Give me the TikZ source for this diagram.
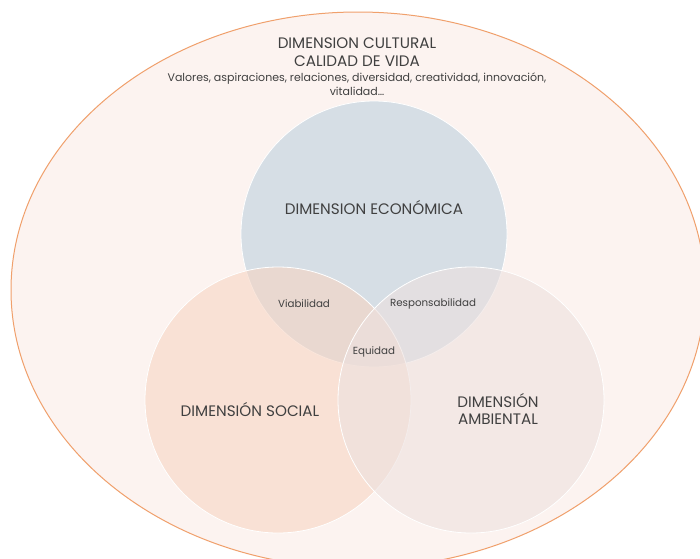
\documentclass[tikz,border=0pt]{standalone}
\usepackage{fontspec}
\usetikzlibrary{shapes.geometric}
\setmainfont{Poppins}
\definecolor{bgfill}{HTML}{FCF3F0}
\definecolor{bgline}{HTML}{F0A06C}
\definecolor{ecofill}{HTML}{BED0DF}
\definecolor{socfill}{HTML}{F7D5C3}
\definecolor{ambfill}{HTML}{EDE1DF}
\definecolor{txt}{HTML}{404040}
\tikzset{
  setcircle/.style={circle, minimum size=266pt, inner sep=0pt, draw=white, line width=0.8pt, fill opacity=0.6},
  bigtxt/.style={text=txt, font=\fontsize{15.2}{17.5}\selectfont, align=center, inner sep=0pt},
  subtxt/.style={text=txt, font=\fontsize{11}{14}\selectfont, align=center, inner sep=0pt},
  smalltxt/.style={text=txt, font=\fontsize{10.3}{12}\selectfont, align=center, inner sep=0pt},
}
\begin{document}
\begin{tikzpicture}[x=1pt,y=-1pt]
\clip (0,0) rectangle (700,558);
\fill[white] (0,0) rectangle (700,558);
\node[ellipse, draw=bgline, fill=bgfill, line width=1pt, minimum width=694pt, minimum height=556pt, inner sep=0pt] (cult) at (358,290) {};
\node[setcircle, fill=ecofill] (eco) at (374,234) {};
\node[setcircle, fill=socfill] (soc) at (278,400) {};
\node[setcircle, fill=ambfill] (amb) at (471,400) {};
\node[bigtxt] (culttitle) at (357,52) {DIMENSION CULTURAL\\CALIDAD DE VIDA};
\node[subtxt] (cultsub) at (357,84) {Valores, aspiraciones, relaciones, diversidad, creatividad, innovación,\\vitalidad…};
\node[bigtxt] (ecolab) at (374,207) {DIMENSION ECONÓMICA};
\node[bigtxt] (soclab) at (250,409) {DIMENSIÓN SOCIAL};
\node[bigtxt] (amblab) at (498,409) {DIMENSIÓN\\AMBIENTAL};
\node[smalltxt] (viab) at (304,304) {Viabilidad};
\node[smalltxt] (resp) at (433,304) {Responsabilidad};
\node[smalltxt] (equi) at (374,352) {Equidad};
\end{tikzpicture}
\end{document}
